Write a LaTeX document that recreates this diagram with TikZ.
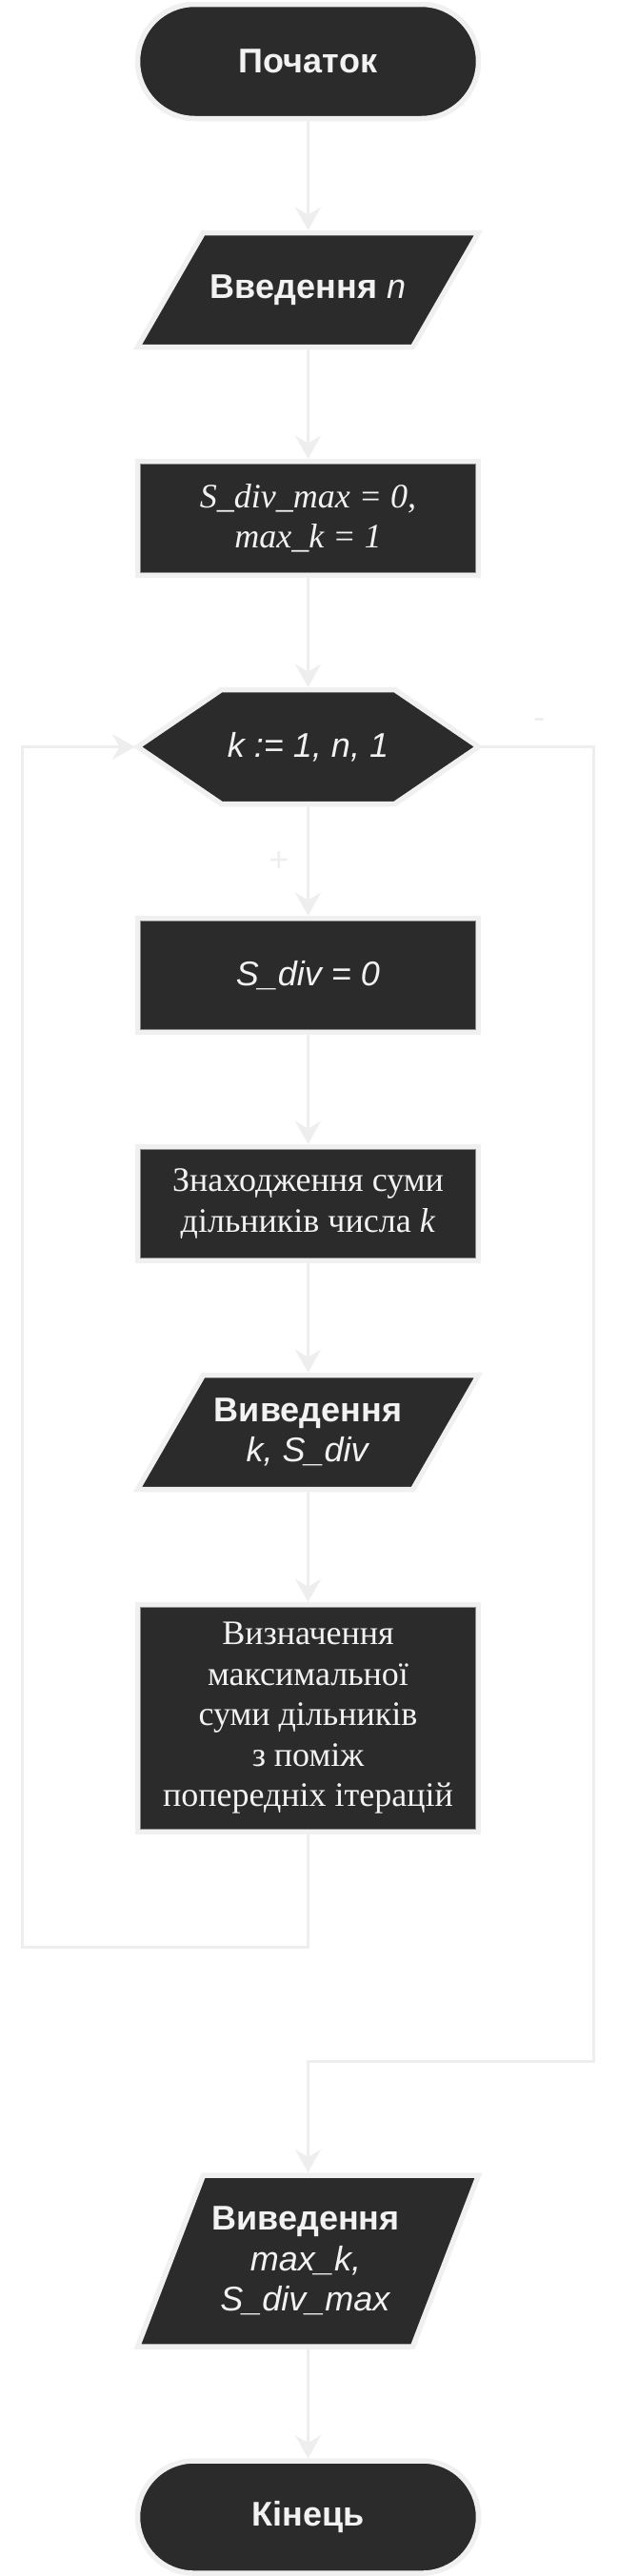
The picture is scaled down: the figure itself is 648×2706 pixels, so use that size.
\documentclass[tikz,border=0pt]{standalone}
\usepackage{fontspec}
\setmainfont{Liberation Serif}
\newfontfamily\sansfam{Liberation Sans}
\usetikzlibrary{arrows.meta,shapes.misc}
\pgfdeclarelayer{bg}
\pgfsetlayers{bg,main}
\definecolor{boxc}{HTML}{2B2B2B}
\definecolor{brd}{HTML}{F0F0F0}
\definecolor{lnc}{HTML}{EEEEEE}
\definecolor{txtc}{HTML}{F2F2F2}
\definecolor{inl}{HTML}{8C8C8C}
\newcommand{\sansbig}{\sansfam\fontsize{36}{42.5}\selectfont}
\newcommand{\serifbig}{\rmfamily\fontsize{36}{42.5}\selectfont}
\tikzset{
  conn/.style={draw=lnc, line width=3pt, -{Stealth[length=24pt,width=27pt,inset=8pt]}},
  boxshape/.style={fill=boxc, draw=brd, line width=5.5pt},
  holder/.style={minimum width=358pt, minimum height=120pt, inner sep=0pt, outer sep=2.75pt, text=txtc, align=center},
  termbox/.style={holder, shape=rounded rectangle, boxshape, outer sep=auto},
  procbox/.style={holder, shape=rectangle, boxshape, outer sep=auto},
  innerln/.style={draw=inl, line width=1pt},
  lbl/.style={font=\sansbig, text=lnc, inner sep=0pt}
}
\begin{document}
\begin{tikzpicture}[x=1pt, y=-1pt]
\useasboundingbox (0,0) rectangle (648,2706);
\node[termbox, font=\sansbig\bfseries] (start) at (323.5,64.5) {Початок};
\node[holder, font=\sansbig] (inp) at (323.5,304.5) {{\bfseries Введення} \textit{n}};
\node[procbox, font=\serifbig\itshape] (init) at (323.5,544.5) {S\_div\_max = 0,\\ max\_k = 1};
\node[holder, font=\sansbig\itshape] (hexh) at (323.5,784.5) {k := 1, n, 1};
\node[procbox, font=\sansbig\itshape] (zero) at (323.5,1024.5) {S\_div = 0};
\node[procbox, font=\serifbig] (find) at (323.5,1264.5) {Знаходження суми\\ дільників числа \textit{k}};
\node[holder, font=\sansbig] (outk) at (323.5,1504.5) {\textbf{Виведення}\\ \textit{k, S\_div}};
\node[procbox, font=\serifbig, minimum height=239pt] (defn) at (323.5,1805) {Визначення\\ максимальної\\ суми дільників\\ з поміж\\ попередніх ітерацій};
\node[holder, font=\sansbig, minimum height=180pt] (outm) at (321,2375) {\textbf{Виведення}\\ \textit{max\_k,}\\ \textit{S\_div\_max}};
\node[termbox, font=\sansbig\bfseries, minimum height=118pt] (fin) at (323.5,2644) {Кінець};
\node[lbl] (plus) at (293,905) {+};
\node[lbl] (minus) at (566,760) {-};
\foreach \n in {init,zero,find,defn}
  \draw[innerln] ([xshift=6pt,yshift=-6pt]\n.north west) rectangle ([xshift=-6pt,yshift=6pt]\n.south east);
\begin{pgfonlayer}{bg}
  \fill[white] (0,0) rectangle (648,2706);
  \begin{scope}[shift={(hexh.center)}]
    \draw[boxshape] (-179,0) -- (-91,-60) -- (91,-60) -- (179,0) -- (91,60) -- (-91,60) -- cycle;
  \end{scope}
  \begin{scope}[shift={(inp.center)}]
    \draw[boxshape] (-110,-60) -- (179,-60) -- (110,60) -- (-179,60) -- cycle;
  \end{scope}
  \begin{scope}[shift={(outk.center)}]
    \draw[boxshape] (-110,-60) -- (179,-60) -- (110,60) -- (-179,60) -- cycle;
  \end{scope}
  \begin{scope}[shift={(outm.center)}, xshift=2.5pt]
    \draw[boxshape] (-110,-90) -- (179,-90) -- (110,90) -- (-179,90) -- cycle;
  \end{scope}
\end{pgfonlayer}
\coordinate (lpB) at (23,2045);
\coordinate (rpT) at (623,784.5);
\coordinate (rpB) at (623,2165);
\coordinate (outmTop) at (323.5,2282);
\draw[conn] (start.south) -- (inp.north);
\draw[conn] (inp.south) -- (init.north);
\draw[conn] (init.south) -- (hexh.north);
\draw[conn] (hexh.south) -- (zero.north);
\draw[conn] (zero.south) -- (find.north);
\draw[conn] (find.south) -- (outk.north);
\draw[conn] (outk.south) -- (defn.north);
\draw[conn] (defn.south) |- (lpB) |- (hexh.west);
\draw[conn] (hexh.east) -- (rpT) -- (rpB) -| (outmTop);
\draw[conn] (outmTop |- outm.south) -- (fin.north);
\end{tikzpicture}
\end{document}
